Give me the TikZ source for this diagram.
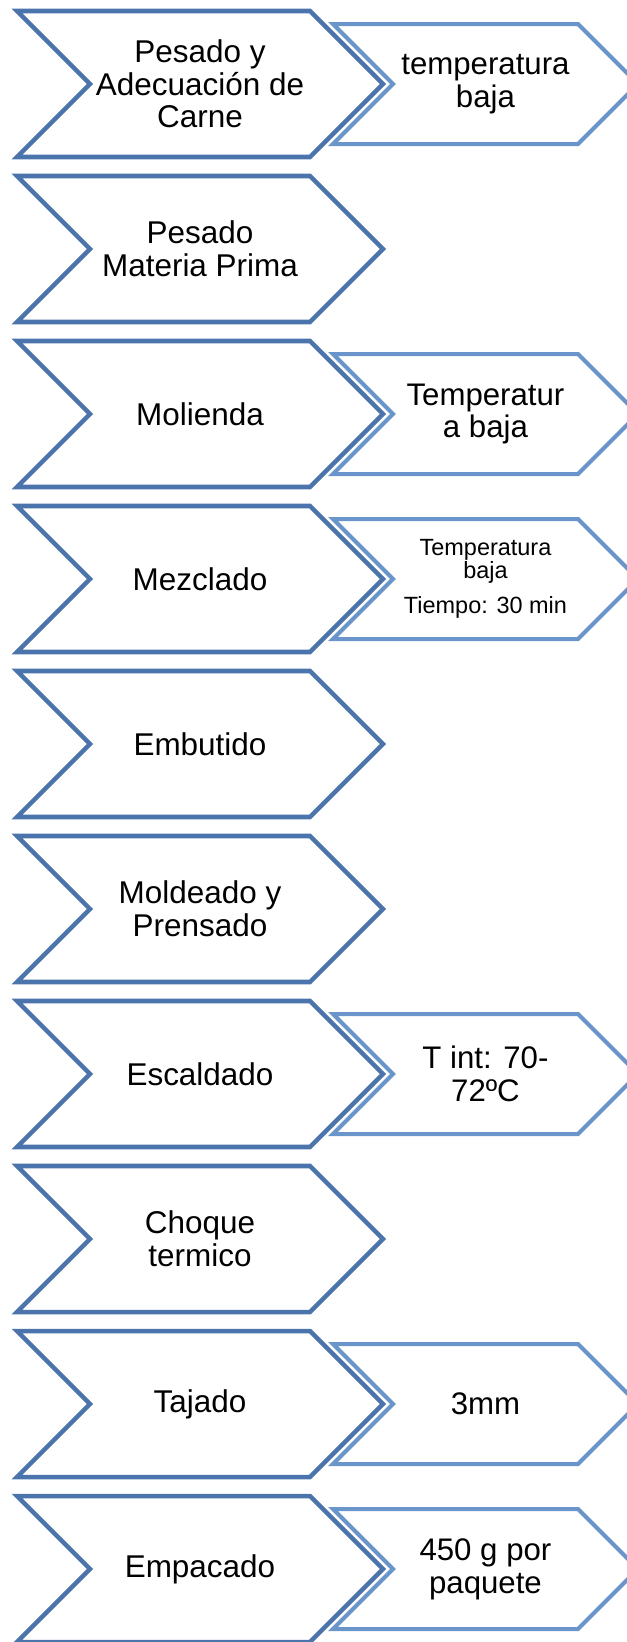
\documentclass[tikz,border=0pt]{standalone}
\usepackage{fontspec}
\setmainfont{Liberation Sans}
\usetikzlibrary{shapes.symbols,positioning}
\definecolor{stepblue}{RGB}{74,116,171}
\definecolor{noteblue}{RGB}{106,149,203}
\tikzset{
    step-chevron/.style = {draw=stepblue, fill=white, line width=3.4pt, shape=signal, signal from=west, signal to=east, signal pointer angle=90, minimum width=274.5pt, minimum height=109.5pt, inner sep=0pt, align=center, font=\fontsize{23.6}{24.5}\selectfont},
    note-chevron/.style = {draw=noteblue, fill=white, line width=3pt, shape=signal, signal from=west, signal to=east, signal pointer angle=90, minimum width=228.75pt, minimum height=90pt, inner sep=0pt, align=center, font=\fontsize{23.4}{24.5}\selectfont},
}

\begin{document}
\begin{tikzpicture}[x=0.75pt, y=-0.75pt, node distance=123.75pt and 214.1pt, on grid]
\clip (0,0) rectangle (627,1642);
% process steps
\node [step-chevron] (pesado) at (200,84) {Pesado y\\Adecuación de\\Carne};
\node [step-chevron, below=of pesado] (materia) {Pesado\\Materia Prima};
\node [step-chevron, below=of materia] (molienda) {Molienda};
\node [step-chevron, below=of molienda] (mezclado) {Mezclado};
\node [step-chevron, below=of mezclado] (embutido) {Embutido};
\node [step-chevron, below=of embutido] (moldeado) {Moldeado y\\Prensado};
\node [step-chevron, below=of moldeado] (escaldado) {Escaldado};
\node [step-chevron, below=of escaldado] (choque) {Choque\\termico};
\node [step-chevron, below=of choque] (tajado) {Tajado};
\node [step-chevron, below=of tajado] (empacado) {Empacado};
% conditions
\node [note-chevron, right=of pesado] (pesado-note) {temperatura\\baja};
\node [note-chevron, right=of molienda] (molienda-note) {Temperatur\\a baja};
\node [note-chevron, right=of mezclado, font=\fontsize{17.6}{17.5}\selectfont] (mezclado-note) {Temperatura\\baja\\[8.8pt]Tiempo: 30 min};
\node [note-chevron, right=of escaldado] (escaldado-note) {T int: 70-\\72ºC};
\node [note-chevron, right=of tajado] (tajado-note) {3mm};
\node [note-chevron, right=of empacado] (empacado-note) {450 g por\\paquete};
\end{tikzpicture}
\end{document}
